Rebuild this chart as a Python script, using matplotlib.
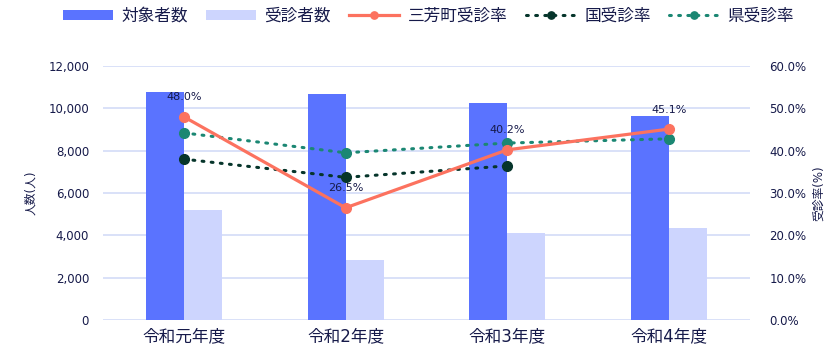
import matplotlib
matplotlib.use("Agg")
import matplotlib.pyplot as plt
import matplotlib.ticker as mtick
import numpy as np

plt.rcParams["font.family"] = ["DejaVu Sans", "Noto Sans CJK JP"]

years = ["令和元年度", "令和2年度", "令和3年度", "令和4年度"]
targets = [10780, 10690, 10240, 9640]       # 対象者数
examined = [5174, 2833, 4116, 4348]         # 受診者数
town_rate = [48.0, 26.5, 40.2, 45.1]        # 三芳町受診率
nation_rate = [38.0, 33.7, 36.4]            # 国受診率 (R4 not yet published)
pref_rate = [44.2, 39.5, 41.8, 42.8]        # 県受診率

TEXT = "#161a4a"
GRID = "#d3dbf7"

fig = plt.figure(figsize=(8.32, 3.45), dpi=100)
ax = fig.add_axes([0.1238, 0.0725, 0.7776, 0.7362])
ax2 = ax.twinx()

x = np.arange(len(years))
w = 0.235
ax.bar(x - w / 2, targets, w, color="#5a73ff", label="対象者数", zorder=2)
ax.bar(x + w / 2, examined, w, color="#cdd5fe", label="受診者数", zorder=2)

ax2.plot(x, town_rate, color="#fc725f", lw=2.3, marker="o", ms=7,
         label="三芳町受診率", zorder=4)
ax2.plot(x[:len(nation_rate)], nation_rate, color="#06352b", lw=2.2,
         ls=(0, (0.6, 2.4)), dash_capstyle="round", marker="o", ms=7,
         label="国受診率", zorder=3)
ax2.plot(x, pref_rate, color="#1b8773", lw=2.2,
         ls=(0, (0.6, 2.4)), dash_capstyle="round", marker="o", ms=7,
         label="県受診率", zorder=3)

for xi, v in zip(x, town_rate):
    ax2.annotate(f"{v:.1f}%", (xi, v), xytext=(0, 14), textcoords="offset points",
                 ha="center", va="center", fontsize=8, color=TEXT)

ax.set_xlim(-0.5, len(years) - 0.5)
ax.set_ylim(0, 12000)
ax.set_yticks(range(0, 12001, 2000))
ax.yaxis.set_major_formatter(mtick.StrMethodFormatter("{x:,.0f}"))
ax2.set_ylim(0, 60)
ax2.set_yticks(range(0, 61, 10))
ax2.yaxis.set_major_formatter(mtick.FuncFormatter(lambda v, _: f"{v:.1f}%"))

ax.set_xticks(x)
ax.set_xticklabels(years, fontsize=12, color=TEXT)
ax.grid(axis="y", color=GRID, lw=1.2, zorder=0)
ax.set_axisbelow(True)

for a in (ax, ax2):
    for s in a.spines.values():
        s.set_visible(False)
    a.tick_params(length=0, labelsize=8.5, colors=TEXT)
ax.tick_params(axis="y", pad=10)
ax.tick_params(axis="x", pad=5, labelsize=12)
ax2.tick_params(axis="y", pad=14)

ax.set_ylabel("人数(人)", fontsize=8.5, color=TEXT, labelpad=8)
ax2.set_ylabel("受診率(%)", fontsize=8.5, color=TEXT, labelpad=4)

h1, l1 = ax.get_legend_handles_labels()
h2, l2 = ax2.get_legend_handles_labels()
fig.legend(h1 + h2, l1 + l2, loc="center", bbox_to_anchor=(0.515, 0.955), ncol=5,
           frameon=False, fontsize=12, handlelength=3.0, handleheight=0.55,
           handletextpad=0.5, columnspacing=1.1, markerscale=0.75,
           labelcolor=TEXT)

fig.savefig("out.png", dpi=100)
